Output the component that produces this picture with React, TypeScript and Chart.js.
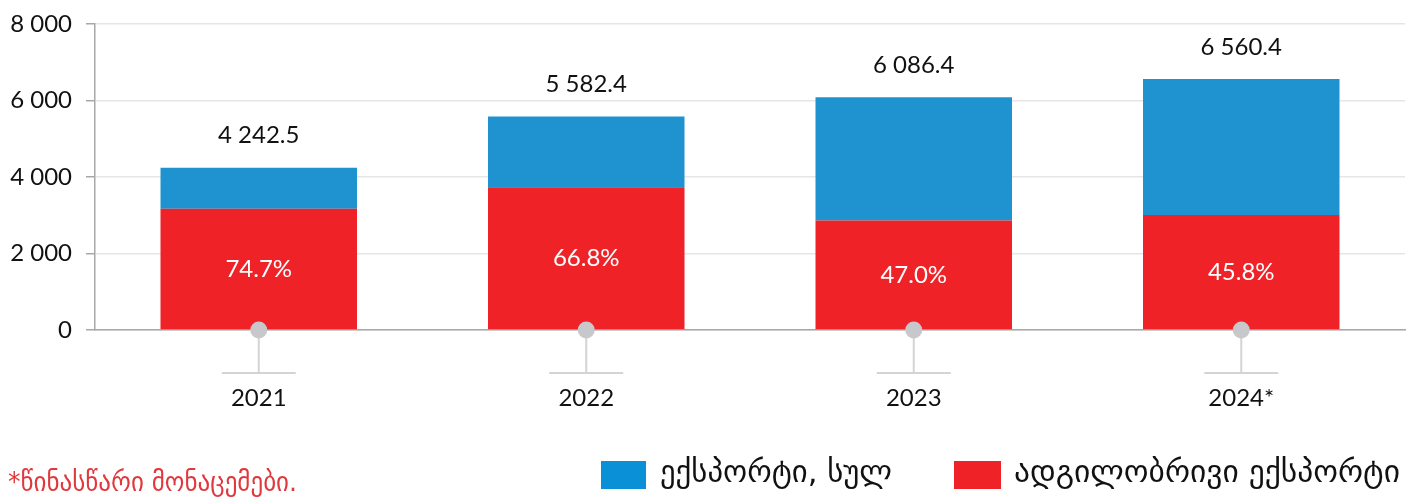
import React, { useEffect, useRef } from 'react';
import { Chart, registerables } from 'chart.js';

Chart.register(...registerables);

const categories = ['2021', '2022', '2023', '2024*'];
const totalExport = [4242.5, 5582.4, 6086.4, 6560.4];
const localExport = [3169.1, 3729.0, 2860.6, 3004.7];
const otherExport = [1073.4, 1853.4, 3225.8, 3555.7];
const localShare = ['74.7%', '66.8%', '47.0%', '45.8%'];
const yTicks = [0, 2000, 4000, 6000, 8000];
const legendLabels = ['ექსპორტი, სულ', 'ადგილობრივი ექსპორტი'];
const footnote = '*წინასწარი მონაცემები.';

const BLUE = '#1e93d0';
const RED = '#ee2227';
const NUM_FONT = 'Lato, "Noto Sans", "DejaVu Sans", sans-serif';
const GEO_FONT = '"DejaVu Sans", sans-serif';

const fmt = (v: number) => {
  const s = v.toFixed(0);
  return s.replace(/\B(?=(\d{3})+(?!\d))/g, ' ');
};
const fmtDec = (v: number) => {
  const [i, d] = v.toFixed(1).split('.');
  return i.replace(/\B(?=(\d{3})+(?!\d))/g, ' ') + '.' + d;
};

const drawFitted = (ctx: any, text: string, x: number, y: number, w: number) => {
  const mw = ctx.measureText(text).width;
  ctx.save();
  ctx.translate(x, y);
  ctx.scale(w / mw, 1);
  ctx.fillText(text, 0, 0);
  ctx.restore();
};

const overlayPlugin = {
  id: 'overlay',
  afterDatasetsDraw(chart: any) {
    const ctx = chart.ctx;
    const y = chart.scales.y;
    const metaRed = chart.getDatasetMeta(0);
    const metaBlue = chart.getDatasetMeta(1);
    ctx.save();
    ctx.textAlign = 'center';
    ctx.textBaseline = 'middle';
    metaRed.data.forEach((bar: any, i: number) => {
      ctx.fillStyle = '#ffffff';
      ctx.font = `24px ${NUM_FONT}`;
      ctx.fillText(localShare[i], bar.x, (bar.y + bar.base) / 2);
    });
    metaBlue.data.forEach((bar: any, i: number) => {
      ctx.fillStyle = '#111111';
      ctx.font = `24px ${NUM_FONT}`;
      ctx.fillText(fmtDec(totalExport[i]), bar.x, y.getPixelForValue(totalExport[i]) - 32);
    });
    const y0 = y.getPixelForValue(0);
    metaRed.data.forEach((bar: any) => {
      ctx.strokeStyle = '#d4d4d6';
      ctx.lineWidth = 2;
      ctx.beginPath();
      ctx.moveTo(bar.x, y0);
      ctx.lineTo(bar.x, y0 + 43);
      ctx.moveTo(bar.x - 37, y0 + 43);
      ctx.lineTo(bar.x + 37, y0 + 43);
      ctx.stroke();
      ctx.fillStyle = '#c8c8cc';
      ctx.beginPath();
      ctx.arc(bar.x, y0, 8.5, 0, Math.PI * 2);
      ctx.fill();
    });
    ctx.restore();
  },
  afterDraw(chart: any) {
    const ctx = chart.ctx;
    ctx.save();
    ctx.textBaseline = 'middle';
    ctx.textAlign = 'left';
    const items = [
      { x: 601, bw: 45, color: '#0a90d6', text: legendLabels[0], tx: 660, w: 232 },
      { x: 954, bw: 47, color: RED, text: legendLabels[1], tx: 1014, w: 386 },
    ];
    items.forEach((it) => {
      ctx.fillStyle = it.color;
      ctx.fillRect(it.x, 461, it.bw, 28);
      ctx.fillStyle = '#111111';
      ctx.font = `30px ${GEO_FONT}`;
      drawFitted(ctx, it.text, it.tx, 474, it.w);
    });
    ctx.fillStyle = '#e0383d';
    ctx.font = `27px ${GEO_FONT}`;
    drawFitted(ctx, footnote, 8, 484, 289);
    ctx.restore();
  },
};

export default function App() {
  const ref = useRef<HTMLCanvasElement | null>(null);
  useEffect(() => {
    if (!ref.current) return;
    const chart = new Chart(ref.current, {
      type: 'bar',
      data: {
        labels: categories,
        datasets: [
          { label: legendLabels[1], data: localExport, backgroundColor: RED, barPercentage: 0.6, categoryPercentage: 1 },
          { label: legendLabels[0], data: otherExport, backgroundColor: BLUE, barPercentage: 0.6, categoryPercentage: 1 },
        ],
      },
      options: {
        responsive: false,
        animation: false,
        maintainAspectRatio: false,
        layout: { padding: { top: 24, right: 8, left: 0, bottom: 0 } },
        plugins: { legend: { display: false }, tooltip: { enabled: false } },
        scales: {
          x: {
            stacked: true,
            grid: { display: false, drawTicks: false },
            border: { display: true, color: '#a8a8a8', width: 1.5 },
            ticks: { color: '#111111', font: { family: NUM_FONT, size: 24 }, padding: 54 },
            afterFit: (s: any) => { s.height = 167; },
          },
          y: {
            stacked: true,
            min: 0,
            max: 8000,
            afterBuildTicks: (s: any) => { s.ticks = yTicks.map((v) => ({ value: v })); },
            grid: { color: '#e6e6e6', tickColor: '#a8a8a8', tickLength: 9, lineWidth: 1.5 },
            border: { display: true, color: '#a8a8a8', width: 1.5 },
            ticks: { color: '#111111', font: { family: NUM_FONT, size: 24, lineHeight: 1 }, padding: 14, callback: (v: any) => fmt(Number(v)) },
            afterFit: (s: any) => { s.width = 95; s.paddingTop = 0; s.paddingBottom = 0; },
          },
        },
      },
      plugins: [overlayPlugin],
    });
    return () => chart.destroy();
  }, []);
  return (
    <div style={{ position: 'fixed', left: 0, top: 0, width: 1413, height: 497 }}>
      <canvas ref={ref} width={1413} height={497} style={{ width: 1413, height: 497 }} />
    </div>
  );
}
